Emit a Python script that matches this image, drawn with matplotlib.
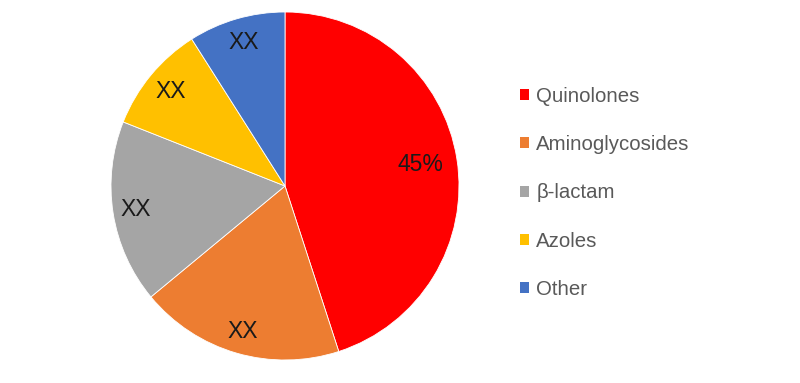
import matplotlib
matplotlib.use("Agg")
import matplotlib.pyplot as plt
from matplotlib.patches import Patch
import numpy as np

categories = ["Quinolones", "Aminoglycosides", "β-lactam", "Azoles", "Other"]
values = [45, 19, 17, 10, 9]
labels = ["45%", "XX", "XX", "XX", "XX"]
colors = ["#FF0000", "#ED7D31", "#A5A5A5", "#FFC000", "#4472C4"]

plt.rcParams['font.family'] = ['Liberation Sans', 'DejaVu Sans']

fig = plt.figure(figsize=(8, 3.83), dpi=100)
ax = fig.add_axes([111/800, 23/383, 348/800, 348/383])
wedges, _ = ax.pie(values, colors=colors, startangle=90, counterclock=False,
                   wedgeprops=dict(edgecolor="white", linewidth=0.6))
ax.set_aspect("equal")
ax.set_xlim(-1, 1)
ax.set_ylim(-1, 1)

dists = [0.79, 0.87, 0.87, 0.85, 0.86]
for w, lab, d in zip(wedges, labels, dists):
    ang = np.deg2rad((w.theta1 + w.theta2) / 2)
    ax.text(d*np.cos(ang), d*np.sin(ang), lab, ha="center", va="center",
            fontsize=16.5, color="#1a1a1a")

handles = [Patch(facecolor=c, edgecolor="none") for c in colors]
fig.legend(handles, categories, loc="upper left", bbox_to_anchor=(520/800, 1-87/383),
           frameon=False, fontsize=14.7, labelcolor="#595959",
           handlelength=0.45, handleheight=0.45, handletextpad=0.35,
           labelspacing=1.43, borderaxespad=0, borderpad=0)

fig.savefig("out.png", dpi=100)
